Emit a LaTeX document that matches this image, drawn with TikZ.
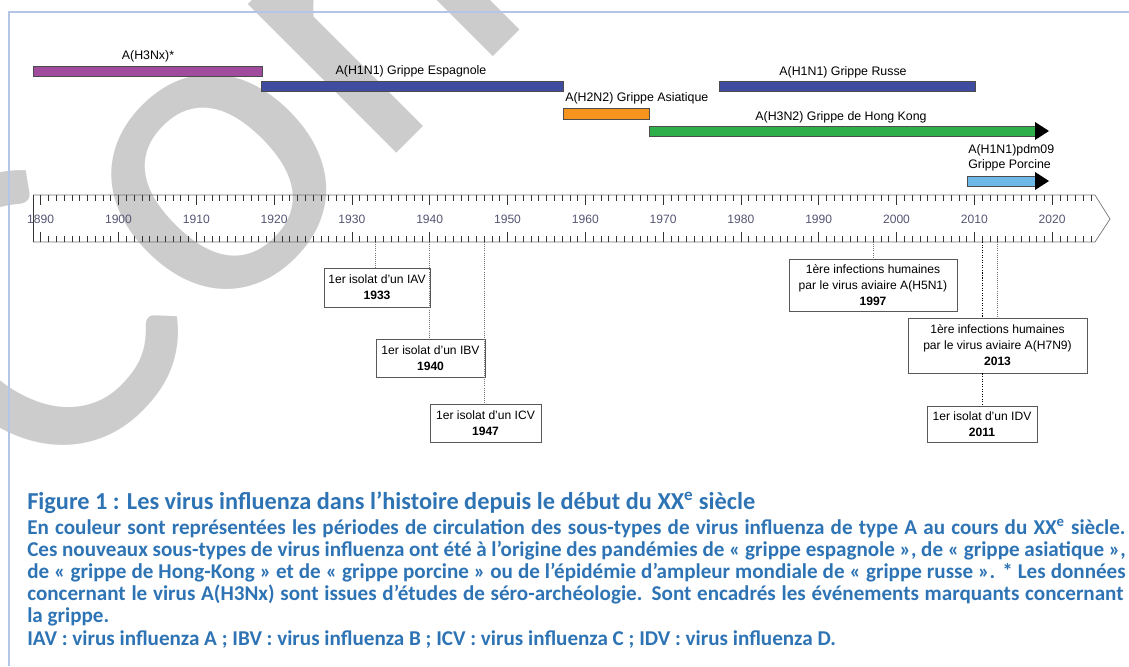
\documentclass[tikz,border=0pt]{standalone}
\usepackage{fontspec}
\setmainfont{Liberation Sans}
\newfontfamily\capfont{Carlito}
\usetikzlibrary{positioning}

\definecolor{framecol}{RGB}{180,198,231}
\definecolor{h3nxcol}{RGB}{160,75,158}
\definecolor{h1n1col}{RGB}{63,76,159}
\definecolor{h2n2col}{RGB}{247,148,29}
\definecolor{h3n2col}{RGB}{46,175,74}
\definecolor{pdmcol}{RGB}{109,184,230}
\definecolor{capblue}{RGB}{46,116,181}
\definecolor{wmarkcol}{RGB}{204,204,204}
\definecolor{ticklab}{RGB}{85,85,115}

% annee -> abscisse
\newcommand{\yrx}[1]{118.5+(#1-1900)*7.78}

\tikzset{
  bar/.style={draw=black!70, line width=0.4pt},
  tip/.style={fill=black},
  barlab/.style={inner sep=0pt, font=\fontsize{8.8}{10.5}\selectfont},
  tick/.style={black!80, line width=0.35pt},
  evbox/.style={draw=black!65, line width=0.6pt, fill=white, align=center, inner sep=0pt,
    font=\fontsize{8.6}{11.4}\selectfont},
  evline/.style={densely dotted, black!55, line width=0.5pt},
  captxt/.style={anchor=base west, inner sep=0pt, text=capblue,
    font=\capfont\bfseries\fontsize{15}{16}\selectfont},
  wmark/.style={inner sep=0pt, text=wmarkcol, font=\capfont\fontsize{313}{313}\selectfont},
}

\begin{document}
\begin{tikzpicture}[x=0.025cm, y=-0.025cm]
\useasboundingbox (0,0) rectangle (1129,666);
% filigrane
\begin{scope}
\clip (0,0) rectangle (1129,666);
\node[wmark, anchor=base west, rotate=45] (wm) at (45,505) {Confidentiel};
\end{scope}
% cadre
\draw[framecol, line width=1.5pt] (9,666) -- (9,12) -- (1129,12);

% periodes de circulation
\filldraw[bar, fill=h3nxcol] (33,66) rectangle (262,76);
\filldraw[bar, fill=h1n1col] (261,81) rectangle (563,91);
\filldraw[bar, fill=h2n2col] (563,108) rectangle (649,119);
\filldraw[bar, fill=h1n1col] (719,81) rectangle (975,91);
\filldraw[bar, fill=h3n2col] (649,126) rectangle (1036,136);
\fill[tip] (1035,122) -- (1049,131) -- (1035,140) -- cycle;
\filldraw[bar, fill=pdmcol] (967,176) rectangle (1036,186);
\fill[tip] (1035,172) -- (1049,181) -- (1035,190) -- cycle;

\node[barlab] (lh3nx) at (148,56) {A(H3Nx)*};
\node[barlab] (lesp) at (411,71) {A(H1N1) Grippe Espagnole};
\node[barlab, anchor=west] (lasia) at (565,98) {A(H2N2) Grippe Asiatique};
\node[barlab] (lrus) at (843,72) {A(H1N1) Grippe Russe};
\node[barlab] (lhk) at (841,117) {A(H3N2) Grippe de Hong Kong};
\node[barlab, anchor=west, align=left] (lpdm) at (968,158) {A(H1N1)pdm09\\Grippe Porcine};

% frise
\draw[black!55, line width=0.5pt] (33,195) -- (1095,195) -- (1110,219) -- (1095,242) -- (33,242);
\draw[black!80, line width=0.6pt] (33,195) -- (33,242);
\foreach \yr in {1890,...,2025} {
  \pgfmathsetmacro{\tl}{mod(\yr,10)==0 ? 10 : 6}
  \draw[tick] ({\yrx{\yr}},195) -- ++(0,\tl);
  \draw[tick] ({\yrx{\yr}},242) -- ++(0,-\tl);
}
\foreach \yr in {1890,1900,...,2020}
  \node[text=ticklab, font=\fontsize{8.6}{10}\selectfont] at ({\yrx{\yr}},219) {\yr};

\coordinate (t1933) at ({\yrx{1933}},242);
\coordinate (t1940) at ({\yrx{1940}},242);
\coordinate (t1947) at ({\yrx{1947}},242);
\coordinate (t1997) at ({\yrx{1997}},242);
\coordinate (t2011) at ({\yrx{2011}},242);
\coordinate (t2013) at ({\yrx{2013}},242);

% evenements
\node[evbox, minimum width=2.65cm, minimum height=0.975cm] (iav) at (377,287.5) {1er isolat d'un IAV\\\textbf{1933}};
\node[evbox, minimum width=2.725cm, minimum height=0.95cm] (ibv) at (430.5,358) {1er isolat d'un IBV\\\textbf{1940}};
\node[evbox, minimum width=2.775cm, minimum height=0.95cm] (icv) at (485.5,423) {1er isolat d'un ICV\\\textbf{1947}};
\node[evbox, minimum width=4.2cm, minimum height=1.3cm] (h5n1) at (873,285) {1ère infections humaines\\par le virus aviaire A(H5N1)\\\textbf{1997}};
\node[evbox, minimum width=4.475cm, minimum height=1.375cm] (h7n9) at (997.5,345.5) {1ère infections humaines\\par le virus aviaire A(H7N9)\\\textbf{2013}};
\node[evbox, minimum width=2.75cm, minimum height=0.9cm] (idv) at (982,424) {1er isolat d'un IDV\\\textbf{2011}};

\draw[evline] (t1933) -- (t1933 |- iav.north);
\draw[evline] (t1940) -- (t1940 |- ibv.north);
\draw[evline] (t1947) -- (t1947 |- icv.north);
\draw[evline] (t1997) -- (t1997 |- h5n1.north);
\draw[evline] (t2013) -- (t2013 |- h7n9.north);
\draw[evline, black, line width=0.8pt] (t2011) -- (t2011 |- h7n9.north);
\draw[evline, black, line width=0.8pt] (t2011 |- h7n9.south) -- (t2011 |- idv.north);

% legende
\node[captxt, font=\capfont\bfseries\fontsize{17.3}{19}\selectfont] (cap0) at (27,509)
  {Figure 1 : Les virus influenza dans l’histoire depuis le début du XX\textsuperscript{e} siècle};
\node[captxt] (cap1) at (27,534) {\makebox[27.45cm][s]{En couleur sont représentées les périodes de circulation des sous-types de virus influenza de type A au cours du XX\textsuperscript{e} siècle.}};
\node[captxt] (cap2) at (27,556) {\makebox[27.45cm][s]{Ces nouveaux sous-types de virus influenza ont été à l’origine des pandémies de «~grippe espagnole~», de «~grippe asiatique~»,}};
\node[captxt] (cap3) at (27,578) {\makebox[27.45cm][s]{de «~grippe de Hong-Kong~» et de «~grippe porcine~» ou de l’épidémie d’ampleur mondiale de «~grippe russe~». * Les données}};
\node[captxt] (cap4) at (27,600) {\makebox[27.4cm][s]{concernant le virus A(H3Nx) sont issues d’études de séro-archéologie. Sont encadrés les événements marquants concernant}};
\node[captxt] (cap5) at (27,622) {la grippe.};
\node[captxt] (cap6) at (27,645) {IAV : virus influenza A ; IBV : virus influenza B ; ICV : virus influenza C ; IDV : virus influenza D.};
\end{tikzpicture}
\end{document}
